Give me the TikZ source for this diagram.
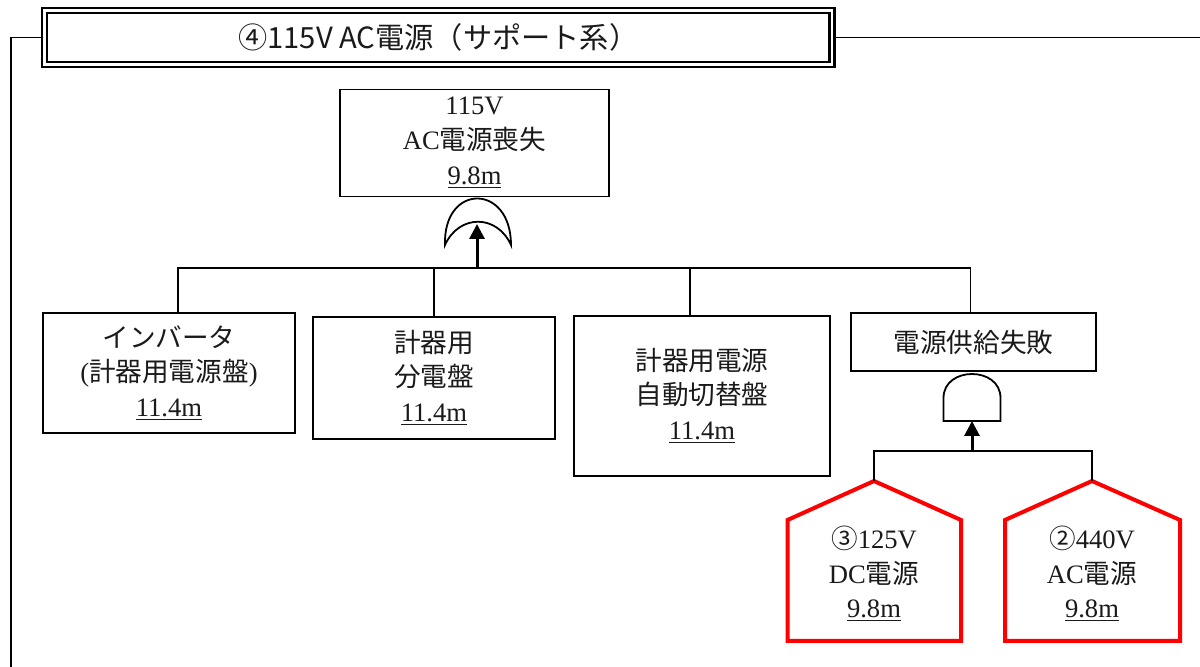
\documentclass[tikz,border=0pt]{standalone}
\usepackage{fontspec}
\setmainfont[Scale=1.0]{Liberation Serif}
\newfontfamily\cjk{Noto Sans CJK JP}
\usetikzlibrary{arrows.meta, positioning}
\definecolor{mRed}{HTML}{FF0000}
\definecolor{mInk}{HTML}{1A1A1A}

\begin{document}
\begin{tikzpicture}[x=0.5pt, y=-0.5pt,
    every node/.style={font=\fontsize{13.3}{17.3}\selectfont, text=mInk, align=center},
    event/.style={draw, line width=0.9pt, inner sep=0pt},
    wire/.style={line width=0.9pt},
    gatebody/.style={line width=0.9pt, fill=white},
    house/.style={draw=mRed, line width=2pt, line join=miter},
    feedline/.style={line width=1.5pt, -{Triangle[length=7.5pt, width=7.5pt]}}]
    \useasboundingbox (0,0) rectangle (1200,667);

    % title banner
    \node[draw, double, line width=1.1pt, double distance=1.4pt, inner sep=0pt,
      minimum width=393.75pt, minimum height=27pt,
      font=\cjk\fontsize{14.6}{16}\selectfont] (title) at (438.25,37.5) {④115V AC電源（サポート系）};
    \coordinate (leftEnd) at (11,667);
    \coordinate (rightEnd) at (1200,37.5);
    \draw[wire] (title.west) -| (leftEnd);
    \draw[wire] (title.east) -- (rightEnd);

    % top event
    \node[event, minimum width=134.5pt, minimum height=53.5pt] (top) at (474.5,143)
      {115V\\AC{\cjk 電源喪失}\\\underline{9.8m}};

    % OR gate
    \coordinate (orIn) at (477,224);
    \coordinate (bus) at (477,268);
    \draw[gatebody] (445,245) .. controls (443,183) and (511,183) .. (511,245)
      .. controls (497,214) and (459,214) .. cycle;
    \draw[feedline] (bus) -- (orIn);

    % basic events
    \node[event, minimum width=126pt, minimum height=60pt] (inv) at (169,373)
      {{\cjk インバータ}\\({\cjk 計器用電源盤})\\\underline{11.4m}};
    \node[event, minimum width=121pt, minimum height=61pt] (dist) at (434,378)
      {{\cjk 計器用}\\{\cjk 分電盤}\\\underline{11.4m}};
    \node[event, minimum width=128pt, minimum height=80pt] (auto) at (702,396)
      {{\cjk 計器用電源}\\{\cjk 自動切替盤}\\\underline{11.4m}};
    \node[event, minimum width=122.5pt, minimum height=29pt] (feed) at (973.5,342)
      {{\cjk 電源供給失敗}};

    \draw[wire] ([xshift=4.5pt]inv.north) |- ([xshift=-1.5pt]feed.north |- bus);
    \draw[wire] (dist.north) -- (dist.north |- bus);
    \draw[wire] ([xshift=-6pt]auto.north) -- ([xshift=-6pt]auto.north |- bus);
    \draw[wire] ([xshift=-1.5pt]feed.north) -- ([xshift=-1.5pt]feed.north |- bus);

    % AND gate
    \coordinate (andIn) at (972,421);
    \coordinate (subBus) at (972,451);
    \draw[gatebody] (943.5,421) -- (943.5,398) .. controls (943.5,366) and (1000.5,366) .. (1000.5,398)
      -- (1000.5,421) -- cycle;
    \draw[feedline] (subBus) -- (andIn);

    % transfer-in events
    \coordinate (dcTop) at (874,481);
    \coordinate (acTop) at (1092,481);
    \draw[house] (787.5,641) -- (787.5,520) -- (dcTop) -- (961,520) -- (961,641) -- cycle;
    \draw[house] (1005,641) -- (1005,520) -- (acTop) -- (1180,520) -- (1180,641) -- cycle;
    \node (dc) at (874,574) {{\cjk ③}125V\\DC{\cjk 電源}\\\underline{9.8m}};
    \node (ac) at (1092,574) {{\cjk ②}440V\\AC{\cjk 電源}\\\underline{9.8m}};

    \draw[wire] (dcTop) |- (subBus) -| (acTop);
  \end{tikzpicture}
\end{document}
